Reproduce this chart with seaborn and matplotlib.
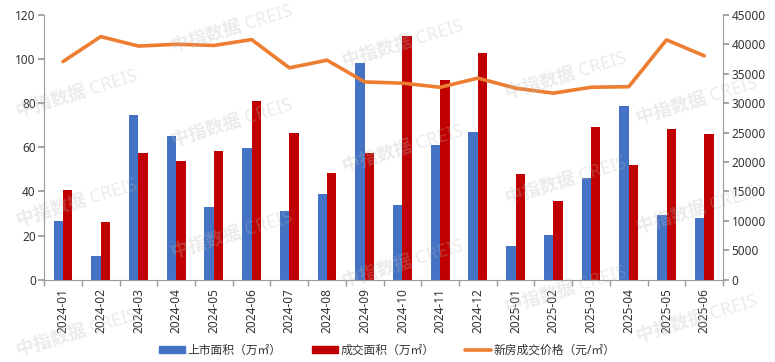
import matplotlib
matplotlib.use("Agg")
import matplotlib.pyplot as plt
from matplotlib.patches import Patch
from matplotlib.lines import Line2D
import seaborn as sns
import pandas as pd
import numpy as np

sns.set_theme(style="white")
plt.rcParams["font.family"] = ["Noto Sans", "Noto Sans CJK SC", "DejaVu Sans"]

months = ["2024-01", "2024-02", "2024-03", "2024-04", "2024-05", "2024-06",
          "2024-07", "2024-08", "2024-09", "2024-10", "2024-11", "2024-12",
          "2025-01", "2025-02", "2025-03", "2025-04", "2025-05", "2025-06"]
supply_area = [26.7, 11.0, 74.5, 65.0, 33.0, 59.5, 31.0, 39.0, 98.0,
               34.0, 61.0, 67.0, 15.4, 20.2, 46.3, 78.8, 29.5, 27.9]
deal_area = [40.5, 26.0, 57.5, 54.0, 58.5, 81.0, 66.5, 48.5, 57.5,
             110.5, 90.4, 102.5, 47.9, 35.8, 69.2, 51.8, 68.2, 66.1]
deal_price = [37070, 41300, 39700, 40000, 39800, 40800, 36000, 37300, 33600,
              33400, 32700, 34250, 32550, 31700, 32700, 32800, 40750, 38050]

lbl_supply = "上市面积（万㎡）"
lbl_deal = "成交面积（万㎡）"
lbl_price = "新房成交价格（元/㎡）"

df = pd.DataFrame({
    "month": months * 2,
    "value": supply_area + deal_area,
    "series": [lbl_supply] * len(months) + [lbl_deal] * len(months),
})

fig = plt.figure(figsize=(7.75, 3.62), dpi=100)
ax = fig.add_axes([0.057, 0.227, 0.876, 0.732])

sns.barplot(data=df, x="month", y="value", hue="series",
            palette=["#4472C4", "#C00000"], width=0.5, gap=0,
            saturation=1, linewidth=0, ax=ax, legend=False)

ax2 = ax.twinx()
sns.lineplot(x=months, y=deal_price, color="#ED7D31", linewidth=2.6,
             sort=False, ax=ax2)

ax.set_xlim(-0.5, len(months) - 0.5)
ax.set_ylim(0, 120)
ax.set_yticks(range(0, 121, 20))
ax2.set_ylim(0, 45000)
ax2.set_yticks(range(0, 45001, 5000))
ax.set_xlabel("")
ax.set_ylabel("")
ax2.set_ylabel("")

spine_c = "#9A9A9A"
for a in (ax, ax2):
    for s in a.spines.values():
        s.set_color(spine_c)
        s.set_linewidth(0.8)
    a.spines["top"].set_visible(False)
    a.grid(False)
ax.spines["right"].set_visible(False)
ax2.spines["left"].set_visible(False)
ax2.spines["bottom"].set_visible(False)

ax.tick_params(axis="y", direction="out", length=4, color=spine_c, labelsize=8.5,
               labelcolor="#333333", pad=2, left=True)
ax2.tick_params(axis="y", direction="out", length=4, color=spine_c, labelsize=8.5,
                labelcolor="#333333", pad=2, right=True)
ax.set_xticks(range(len(months)))
ax.set_xticklabels(months, rotation=90, fontsize=8.5, color="#333333")
ax.set_xticks(np.arange(-0.5, len(months), 1), minor=True)
ax.tick_params(axis="x", which="major", length=0, pad=6)
ax.tick_params(axis="x", which="minor", length=4, color=spine_c, bottom=True)

# legend
handles = [Patch(color="#4472C4"), Patch(color="#C00000"),
           Line2D([], [], color="#ED7D31", linewidth=2.6)]
fig.legend(handles, [lbl_supply, lbl_deal, lbl_price], loc="center",
           bbox_to_anchor=(0.5, 0.033), ncol=3, frameon=False, fontsize=8.5,
           handlelength=2.2, handleheight=0.6, handletextpad=0.2, columnspacing=2.6,
           labelcolor="#333333")

# watermark
wm = "中指数据 CREIS"
for x, y in [(0.30, 0.92), (0.10, 0.74), (0.30, 0.66), (0.10, 0.44), (0.30, 0.35),
             (0.52, 0.88), (0.52, 0.59), (0.52, 0.27), (0.73, 0.79), (0.73, 0.50),
             (0.73, 0.20), (0.90, 0.72), (0.90, 0.42), (0.10, 0.08), (0.90, 0.12)]:
    fig.text(x, y, wm, fontsize=13, fontweight="bold", color="#B8B8B8", alpha=0.28,
             rotation=17, ha="center", va="center", zorder=10)

fig.savefig("out.png", dpi=100)
